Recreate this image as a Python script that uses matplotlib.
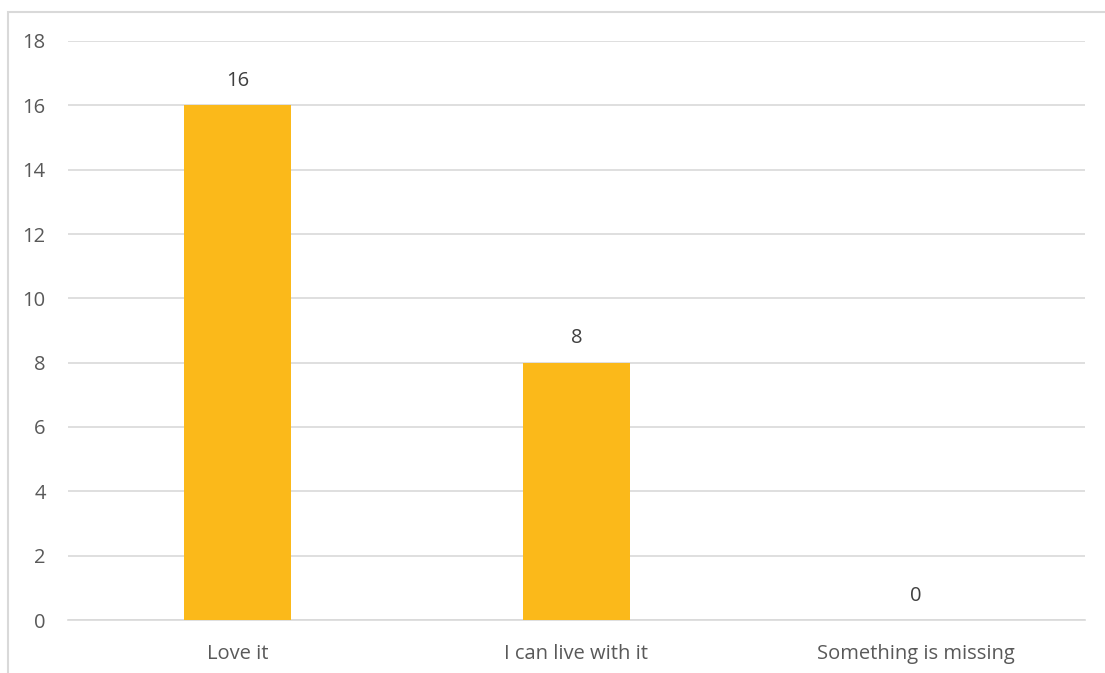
import matplotlib.pyplot as plt
from matplotlib.patches import Rectangle

categories = ["Love it", "I can live with it", "Something is missing"]
values = [16, 8, 0]
yticks = [0, 2, 4, 6, 8, 10, 12, 14, 16, 18]

plt.rcParams['font.family'] = ['Open Sans', 'DejaVu Sans']

fig = plt.figure(figsize=(11.05, 6.73), dpi=100)
W, H = 1105, 673
ax = fig.add_axes([68 / W, (H - 620) / H, (1085 - 68) / W, (620 - 41) / H])

# outer chart border (only top and left visible in the crop)
fig.patches.append(Rectangle((8 / W, -0.1), 1.2, (H - 12) / H + 0.1,
                             transform=fig.transFigure, fill=False,
                             edgecolor='#D9D9D9', linewidth=1.5))

fs = 14.5
x = range(len(categories))
ax.bar(x, values, width=0.316, color='#FBB91A', zorder=3)
for xi, v in zip(x, values):
    ax.text(xi, v + 0.45, str(v), ha='center', va='bottom', fontsize=fs, color='#404040')

ax.set_xlim(-0.5, len(categories) - 0.5)
ax.set_ylim(0, 18)
ax.set_yticks(yticks)
ax.set_xticks(list(x))
ax.set_xticklabels(categories)
ax.tick_params(axis='both', length=0, labelsize=fs, colors='#595959')
ax.tick_params(axis='y', pad=16)
ax.tick_params(axis='x', pad=17)
ax.grid(axis='y', color='#D9D9D9', linewidth=1.2, zorder=0)
for s in ['top', 'right', 'left']:
    ax.spines[s].set_visible(False)
ax.spines['bottom'].set_color('#D9D9D9')
ax.spines['bottom'].set_linewidth(1.2)

fig.savefig("out.png", dpi=100)
